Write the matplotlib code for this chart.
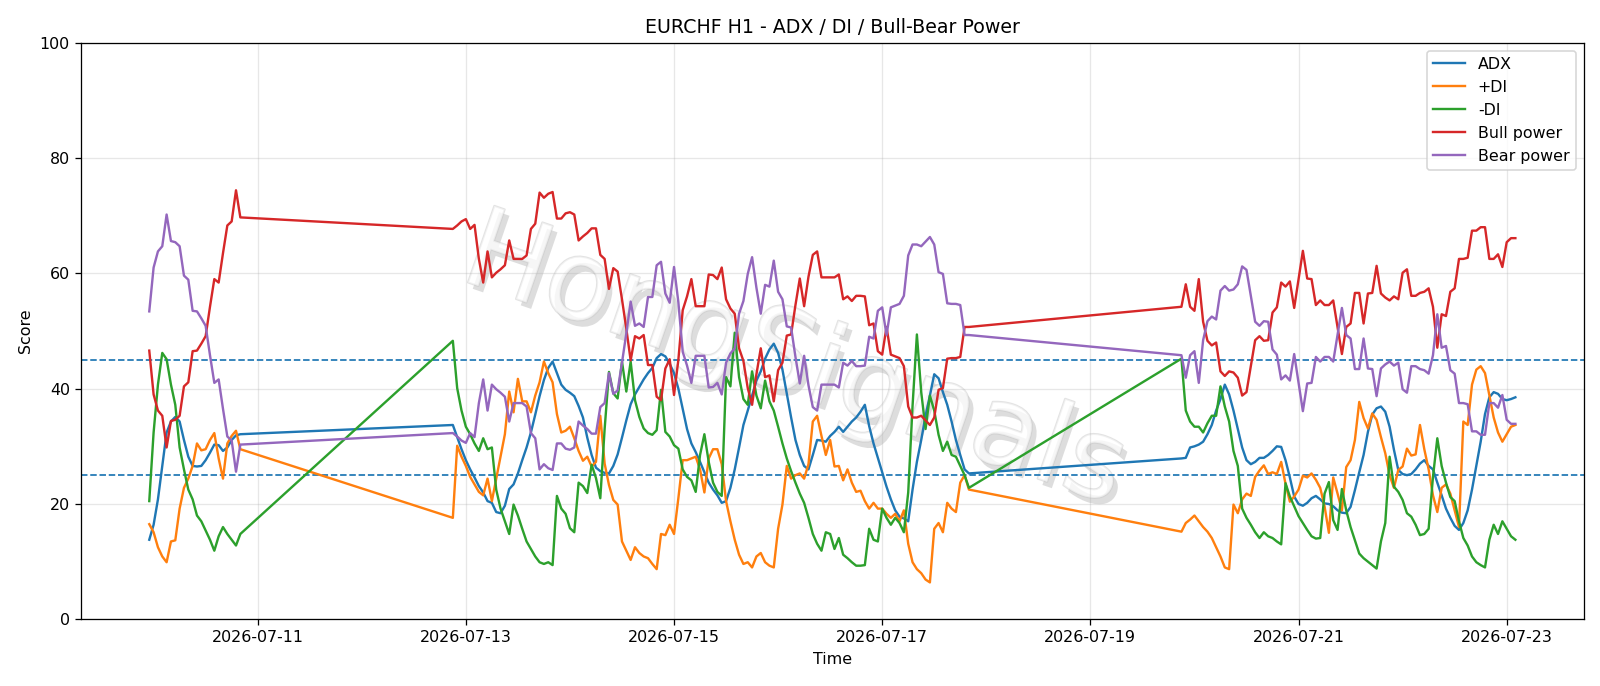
import matplotlib
matplotlib.use("Agg")
import matplotlib.pyplot as plt
import matplotlib.dates as mdates
import matplotlib.patheffects as pe
import pandas as pd

# three trading blocks of hourly bars (weekends are skipped)
block_starts = ["2026-07-09 23:00", "2026-07-12 21:00", "2026-07-19 21:00"]
block_lengths = [22, 120, 78]

adx = [
    13.8, 16.4, 20.8, 26.6, 32.4, 34.3, 35.1, 34.3, 31.1, 28.2, 26.6, 26.5, 26.6, 27.6, 28.9, 30.3, 30.2, 29.2, 29.8, 31.1, 31.9, 32.1,
    33.7, 31.6, 29.5, 27.6, 26.0, 24.6, 23.1, 22.0, 20.5, 20.2,
    18.6, 18.4, 19.7, 22.6, 23.4, 25.3, 27.6, 29.8, 32.4, 35.5,
    38.7, 41.5, 43.6, 44.7, 42.7, 40.7, 39.8, 39.3, 38.7, 37.0,
    35.0, 31.5, 28.5, 26.3, 25.7, 25.4, 25.3, 26.6, 28.6, 31.5,
    34.5, 37.3, 39.0, 40.3, 41.6, 42.7, 43.6, 45.3, 46.0, 45.6,
    44.3, 42.7, 40.0, 36.5, 33.0, 30.5, 29.0, 27.3, 25.5, 23.7,
    22.5, 21.5, 20.2, 20.5, 22.8, 26.0, 29.8, 33.7, 36.2, 38.8,
    41.4, 43.0, 45.2, 46.8, 47.8, 46.2, 43.3, 39.1, 35.0, 31.1,
    28.5, 26.6, 26.0, 28.5, 31.1, 31.0, 30.8, 31.8, 32.5, 33.4,
    32.5, 33.4, 34.3, 35.0, 36.0, 37.2, 33.5, 30.5, 28.0, 25.5,
    23.0, 20.8, 18.9, 17.8, 17.5, 17.0, 22.5, 27.3, 31.1, 35.3,
    38.8, 42.5, 41.8, 39.4, 37.2, 34.3, 31.1, 28.5, 26.0, 25.3,
    27.9, 28.0, 29.8, 30.0, 30.3, 30.8, 32.1, 33.7, 36.2, 38.2,
    40.7, 39.0, 36.2, 33.0, 29.8, 27.6, 26.9, 27.3, 28.0, 28.0,
    28.5, 29.2, 30.0, 29.9, 27.6, 24.6, 21.3, 20.0, 19.7, 20.2,
    21.0, 21.4, 20.8, 20.1, 20.0, 19.6, 18.9, 18.5, 18.4, 19.5,
    22.4, 25.5, 28.5, 32.5, 35.5, 36.6, 36.9, 36.0, 33.4, 29.4,
    25.9, 25.2, 25.0, 25.2, 26.0, 27.0, 27.6, 26.6, 26.0, 23.7,
    21.5, 19.2, 17.6, 16.2, 15.5, 16.7, 18.9, 22.5, 26.6, 30.8,
    35.6, 38.5, 39.4, 39.1, 38.2, 38.0, 38.2, 38.5,
]

plus_di = [
    16.5, 15.1, 12.5, 10.9, 9.9, 13.5, 13.7, 19.2, 22.8, 24.4, 26.6, 30.5, 29.3, 29.5, 31.1, 32.3, 27.9, 24.4, 30.5, 31.8, 32.7, 29.5,
    17.6, 30.1, 28.2, 26.6, 24.7, 23.4, 22.1, 21.5, 24.4, 20.5,
    24.4, 28.2, 32.1, 39.5, 35.9, 41.7, 37.8, 37.8, 35.9, 38.8,
    41.1, 44.7, 42.7, 41.1, 35.6, 32.4, 32.7, 33.4, 31.4, 29.2,
    27.5, 28.2, 26.5, 27.3, 35.3, 27.0, 23.3, 20.7, 19.9, 13.5,
    11.9, 10.3, 12.5, 11.5, 10.9, 10.6, 9.6, 8.7, 14.8, 14.6,
    16.4, 14.8, 21.0, 27.6, 27.6, 27.9, 28.2, 26.0, 22.0, 27.9,
    29.5, 29.5, 26.9, 20.5, 17.0, 13.8, 11.2, 9.6, 9.9, 9.0,
    10.9, 11.5, 9.9, 9.3, 9.0, 15.7, 19.9, 26.6, 24.4, 25.0,
    25.3, 24.4, 26.9, 34.3, 35.3, 31.8, 28.5, 31.1, 26.5, 26.6,
    24.1, 26.0, 23.7, 22.1, 22.3, 20.5, 19.2, 20.2, 19.2, 19.2,
    18.3, 17.6, 18.3, 17.0, 18.9, 13.1, 9.9, 8.7, 8.0, 6.9,
    6.4, 15.7, 16.7, 15.1, 20.2, 19.2, 18.6, 23.7, 25.0, 22.5,
    15.2, 16.7, 17.3, 18.0, 17.0, 16.0, 15.2, 14.1, 12.5, 10.9,
    9.0, 8.7, 19.9, 18.4, 20.8, 21.8, 21.4, 24.7, 25.8, 26.7,
    25.2, 25.5, 25.2, 27.3, 23.5, 20.4, 21.3, 22.5, 24.9, 24.6,
    25.3, 24.2, 22.8, 19.6, 15.0, 24.6, 21.8, 18.9, 26.4, 27.6,
    31.1, 37.7, 34.9, 33.1, 35.7, 34.6, 31.6, 28.8, 25.0, 22.8,
    25.9, 26.5, 29.6, 28.4, 28.6, 33.7, 29.5, 26.0, 21.5, 18.6,
    22.8, 23.4, 21.8, 18.9, 16.0, 34.3, 33.7, 40.7, 43.3, 43.9,
    42.7, 38.8, 35.0, 32.4, 30.8, 32.1, 33.4, 33.7,
]

minus_di = [
    20.5, 32.4, 40.7, 46.2, 45.1, 40.7, 37.2, 29.8, 26.0, 22.5, 20.8, 18.0, 17.0, 15.4, 13.8, 11.9, 14.4, 16.0, 14.8, 13.8, 12.8, 14.8,
    48.3, 40.1, 36.2, 33.4, 32.1, 30.5, 29.2, 31.4, 29.5, 29.8,
    22.5, 19.2, 17.0, 14.8, 19.9, 18.0, 15.7, 13.5, 12.2, 10.9,
    9.9, 9.6, 9.9, 9.4, 21.4, 19.2, 18.3, 15.8, 15.1, 23.7,
    23.1, 21.9, 26.8, 24.5, 21.0, 33.0, 42.9, 39.2, 38.3, 44.7,
    39.5, 44.7, 38.0, 35.1, 33.1, 32.3, 32.0, 32.8, 39.8, 32.5,
    31.7, 30.2, 29.6, 26.0, 24.7, 24.1, 22.1, 28.5, 32.1, 27.3,
    23.7, 22.1, 21.4, 42.0, 40.4, 49.7, 42.0, 38.2, 37.2, 43.0,
    38.8, 36.6, 41.4, 37.8, 36.2, 33.4, 30.5, 27.9, 25.7, 23.7,
    21.8, 20.2, 17.6, 14.8, 13.1, 11.9, 15.1, 14.8, 12.2, 14.1,
    11.2, 10.6, 9.9, 9.3, 9.3, 9.4, 15.7, 13.8, 13.5, 19.2,
    17.6, 16.4, 17.6, 16.7, 15.1, 22.0, 37.0, 49.4, 39.4, 33.0,
    38.8, 36.2, 32.0, 29.2, 30.8, 28.5, 28.2, 26.6, 25.0, 22.8,
    45.2, 36.2, 34.3, 33.4, 33.4, 32.4, 34.0, 35.3, 35.3, 40.4,
    36.9, 34.3, 29.2, 26.6, 19.2, 17.6, 16.4, 15.1, 14.1, 15.1,
    14.4, 14.1, 13.5, 13.0, 23.6, 21.3, 19.6, 17.9, 16.7, 15.5,
    14.4, 14.0, 14.1, 21.8, 23.8, 17.2, 15.5, 22.6, 18.9, 16.0,
    13.7, 11.4, 10.6, 10.0, 9.4, 8.8, 13.5, 16.7, 28.2, 23.0,
    22.1, 20.7, 18.4, 17.8, 16.4, 14.6, 14.8, 15.7, 24.7, 31.4,
    26.6, 23.7, 21.2, 20.5, 17.0, 14.1, 12.8, 10.9, 9.9, 9.4,
    9.0, 13.8, 16.4, 14.8, 17.0, 15.7, 14.4, 13.8,
]

bull_power = [
    46.6, 39.0, 36.2, 35.3, 29.8, 34.4, 34.6, 35.3, 40.4, 41.1, 46.5, 46.6, 47.8, 49.1, 54.2, 59.0, 58.4, 63.5, 68.3, 69.0, 74.4, 69.7,
    67.7, 68.3, 69.0, 69.4, 67.7, 68.4, 62.5, 58.4, 63.8, 59.3,
    60.1, 60.7, 61.4, 65.7, 62.5, 62.5, 62.5, 63.1, 67.7, 68.6,
    74.0, 73.1, 73.8, 74.1, 69.5, 69.5, 70.4, 70.6, 70.2, 65.7,
    66.4, 67.0, 67.8, 67.8, 63.2, 62.5, 57.3, 60.9, 60.3, 55.5,
    50.4, 44.9, 49.1, 48.7, 49.3, 44.1, 44.1, 38.6, 38.0, 43.5,
    45.1, 38.9, 45.0, 53.6, 56.0, 59.0, 54.3, 54.3, 54.3, 59.8,
    59.7, 59.0, 61.0, 55.5, 53.9, 53.0, 47.0, 44.8, 40.1, 37.2,
    42.5, 47.0, 42.0, 42.3, 37.8, 43.2, 44.5, 49.2, 49.4, 54.5,
    59.1, 54.3, 59.4, 63.2, 63.8, 59.3, 59.3, 59.3, 59.3, 59.8,
    55.5, 56.0, 55.2, 56.1, 56.1, 56.0, 51.0, 51.3, 46.5, 45.9,
    50.7, 45.9, 45.6, 45.3, 43.9, 36.9, 35.0, 35.0, 35.3, 34.5,
    33.7, 35.0, 39.8, 40.1, 45.2, 45.3, 45.3, 45.5, 50.7, 50.7,
    54.2, 58.1, 54.2, 53.5, 59.0, 51.6, 48.3, 47.5, 48.0, 43.0,
    42.2, 43.0, 42.8, 41.9, 38.8, 39.4, 43.9, 48.4, 49.1, 48.3,
    48.4, 53.2, 54.1, 58.4, 57.7, 58.6, 54.0, 59.0, 63.9, 59.1,
    59.0, 54.5, 55.3, 54.5, 54.5, 55.3, 50.7, 46.0, 50.7, 51.3,
    56.6, 56.6, 51.3, 56.5, 56.6, 61.3, 56.5, 55.8, 55.3, 56.0,
    55.5, 60.1, 60.7, 56.1, 56.1, 56.6, 56.8, 57.4, 54.2, 47.1,
    52.9, 52.6, 56.8, 57.4, 62.5, 62.5, 62.7, 67.4, 67.4, 68.0,
    68.0, 62.5, 62.5, 63.3, 61.1, 65.4, 66.1, 66.1,
]

bear_power = [
    53.4, 61.0, 63.8, 64.7, 70.2, 65.6, 65.4, 64.7, 59.6, 58.9, 53.5, 53.4, 52.2, 50.9, 45.8, 41.0, 41.6, 36.5, 31.7, 31.0, 25.6, 30.3,
    32.3, 31.7, 31.0, 30.6, 32.3, 31.6, 37.5, 41.6, 36.2, 40.7,
    39.9, 39.3, 38.6, 34.3, 37.5, 37.5, 37.5, 36.9, 32.3, 31.4,
    26.0, 26.9, 26.2, 25.9, 30.5, 30.5, 29.6, 29.4, 29.8, 34.3,
    33.6, 33.0, 32.2, 32.2, 36.8, 37.5, 42.7, 39.1, 39.7, 44.5,
    49.6, 55.1, 50.9, 51.3, 50.7, 55.9, 55.9, 61.4, 62.0, 56.5,
    54.9, 61.1, 55.0, 46.4, 44.0, 41.0, 45.7, 45.7, 45.7, 40.2,
    40.3, 41.0, 39.0, 44.5, 46.1, 47.0, 53.0, 55.2, 59.9, 62.8,
    57.5, 53.0, 58.0, 57.7, 62.2, 56.8, 55.5, 50.8, 50.6, 45.5,
    40.9, 45.7, 40.6, 36.8, 36.2, 40.7, 40.7, 40.7, 40.7, 40.2,
    44.5, 44.0, 44.8, 43.9, 43.9, 44.0, 49.0, 48.7, 53.5, 54.1,
    49.3, 54.1, 54.4, 54.7, 56.1, 63.1, 65.0, 65.0, 64.7, 65.5,
    66.3, 65.0, 60.2, 59.9, 54.8, 54.7, 54.7, 54.5, 49.3, 49.3,
    45.8, 41.9, 45.8, 46.5, 41.0, 48.4, 51.7, 52.5, 52.0, 57.0,
    57.8, 57.0, 57.2, 58.1, 61.2, 60.6, 56.1, 51.6, 50.9, 51.7,
    51.6, 46.8, 45.9, 41.6, 42.3, 41.4, 46.0, 41.0, 36.1, 40.9,
    41.0, 45.5, 44.7, 45.5, 45.5, 44.7, 49.3, 54.0, 49.3, 48.7,
    43.4, 43.4, 48.7, 43.5, 43.4, 38.7, 43.5, 44.2, 44.7, 44.0,
    44.5, 39.9, 39.3, 43.9, 43.9, 43.4, 43.2, 42.6, 45.8, 52.9,
    47.1, 47.4, 43.2, 42.6, 37.5, 37.5, 37.3, 32.6, 32.6, 32.0,
    32.0, 37.5, 37.5, 36.7, 38.9, 34.6, 33.9, 33.9,
]

series_labels = ["ADX", "+DI", "-DI", "Bull power", "Bear power"]
threshold_levels = [25, 45]

times = pd.DatetimeIndex([])
for start, n in zip(block_starts, block_lengths):
    times = times.append(pd.date_range(start, periods=n, freq="h"))

for s in (adx, plus_di, minus_di, bull_power, bear_power):
    assert len(s) == len(times), (len(s), len(times))

fig = plt.figure(figsize=(14, 6.0025), dpi=1600 / 14)
ax = fig.add_axes([0.0506, 0.0972, 0.9392, 0.8406])

for vals, lab in zip((adx, plus_di, minus_di, bull_power, bear_power), series_labels):
    ax.plot(times, vals, label=lab, zorder=3)

for lvl in threshold_levels:
    ax.axhline(lvl, linestyle="--", linewidth=1.1, color="C0", zorder=2)

ax.text(0.475, 0.445, "HongSignals", transform=ax.transAxes, fontsize=70,
        rotation=-19, ha="center", va="center", color="white", alpha=0.5,
        zorder=1,
        path_effects=[pe.SimplePatchShadow(offset=(3, -4), shadow_rgbFace="#b5b5b5", alpha=0.45),
                      pe.withStroke(linewidth=1.3, foreground="#c8c8c8")])

ax.set_ylim(0, 100)
ax.xaxis.set_major_locator(mdates.DayLocator(bymonthday=range(1, 32, 2)))
ax.xaxis.set_major_formatter(mdates.DateFormatter("%Y-%m-%d"))
ax.grid(True, alpha=0.3)
ax.set_title("EURCHF H1 - ADX / DI / Bull-Bear Power")
ax.set_xlabel("Time")
ax.set_ylabel("Score")
ax.legend(loc="upper right")

fig.savefig("out.png", dpi=1600 / 14)
